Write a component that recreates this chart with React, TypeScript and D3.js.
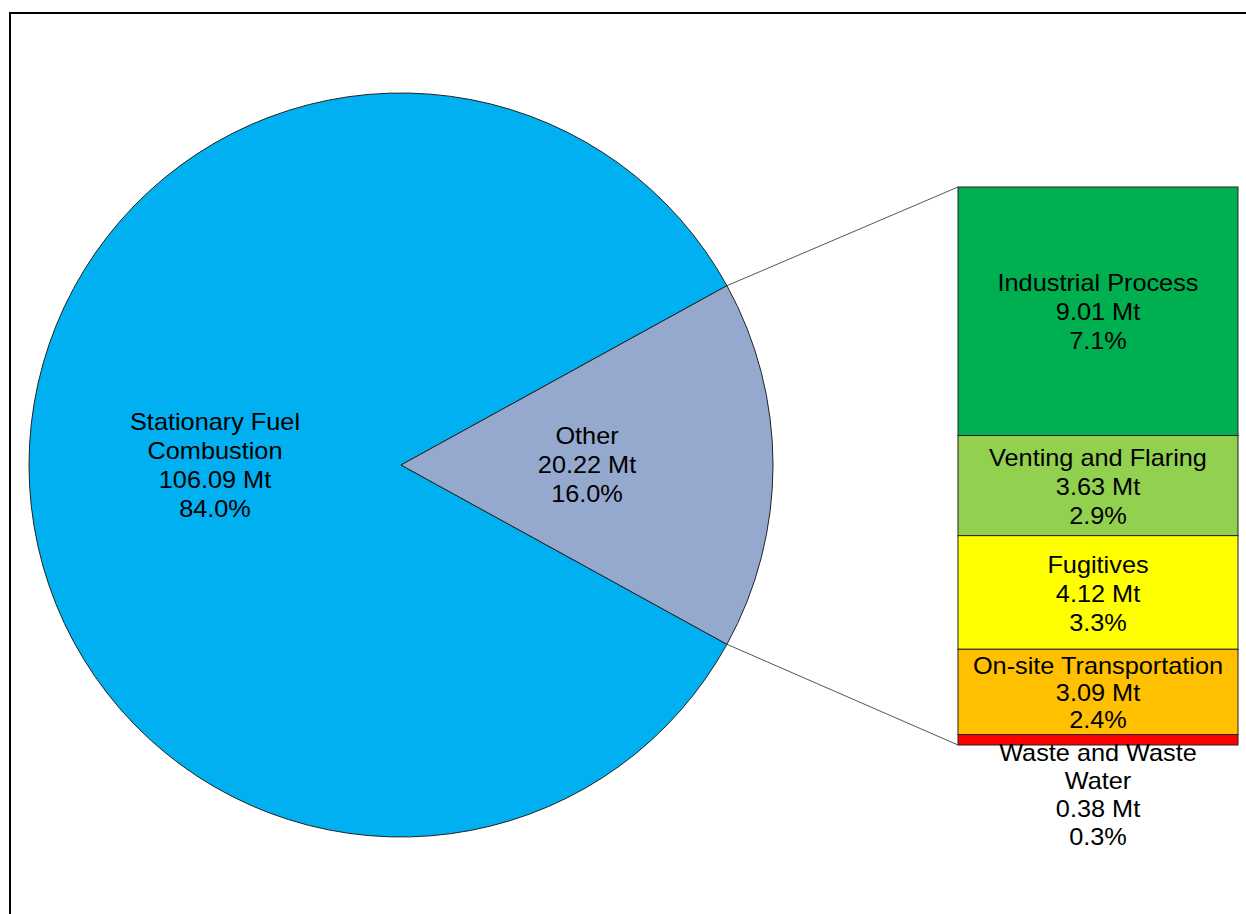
import React from "react";
import * as d3 from "d3";

const pieCategories = ["Stationary Fuel\nCombustion", "Other"];
const pieValues = [106.09, 20.22];
const pieColors = ["#00B0F0", "#95A9CF"];

const barCategories = ["Industrial Process", "Venting and Flaring", "Fugitives", "On-site Transportation", "Waste and Waste\nWater"];
const barValues = [9.01, 3.63, 4.12, 3.09, 0.38];
const barColors = ["#00B050", "#92D050", "#FFFF00", "#FFC000", "#FF0000"];

const W = 1246, H = 914;
const cx = 401, cy = 465, R = 372;
const barX = 958, barW = 280, barTop = 187, barBottom = 745;
const FONT = "'Liberation Sans', Arial, sans-serif";
const LH = 29;
const FS = 23;
const SX = 1.1;

export default function App() {
  const total = d3.sum(pieValues);
  const otherAngle = (pieValues[1] / total) * 2 * Math.PI;
  const start = Math.PI / 2 - otherAngle / 2;
  const pie = d3.pie<number>().sort(null).value(d => d)
    .startAngle(start + otherAngle - 2 * Math.PI)
    .endAngle(start + otherAngle);
  const arcs = pie(pieValues);
  const arc = d3.arc<d3.PieArcDatum<number>>().innerRadius(0).outerRadius(R);
  const labelArc = d3.arc<d3.PieArcDatum<number>>().innerRadius(R / 2).outerRadius(R / 2);

  const otherTotal = d3.sum(barValues);
  const y = d3.scaleLinear().domain([0, otherTotal]).range([barTop, barBottom]);
  const cum = barValues.map((_, i) => d3.sum(barValues.slice(0, i)));

  const pTop = [cx + R * Math.sin(start), cy - R * Math.cos(start)];
  const pBot = [cx + R * Math.sin(start + otherAngle), cy - R * Math.cos(start + otherAngle)];

  const fmtPct = (v: number) => (v / total * 100).toFixed(1) + "%";

  const renderLines = (lines: string[], x: number, yc: number, key: string, lh = LH) => {
    const y0 = yc - ((lines.length - 1) * lh) / 2;
    return (
      <g key={key} transform={`translate(${x},0) scale(${SX},1)`}>
        <text textAnchor="middle" fontFamily={FONT} fontSize={FS} fill="#000">
          {lines.map((l, i) => (
            <tspan key={i} x={0} y={y0 + i * lh} dominantBaseline="central">{l}</tspan>
          ))}
        </text>
      </g>
    );
  };

  return (
    <svg width={W} height={H} style={{ position: "absolute", left: 0, top: 0, background: "#fff" }}>
      <rect x={10} y={13} width={W + 20} height={H + 20} fill="#fff" stroke="#000" strokeWidth={2} />
      <g transform={`translate(${cx},${cy})`}>
        {arcs.map((a, i) => (
          <path key={i} d={arc(a) || ""} fill={pieColors[i]} stroke="#222" strokeWidth={1} />
        ))}
      </g>
      <line x1={pTop[0]} y1={pTop[1]} x2={barX} y2={barTop} stroke="#555" strokeWidth={1} />
      <line x1={pBot[0]} y1={pBot[1]} x2={barX} y2={barBottom} stroke="#555" strokeWidth={1} />
      {barValues.map((v, i) => (
        <rect key={i} x={barX} y={y(cum[i])} width={barW} height={y(cum[i] + v) - y(cum[i])}
          fill={barColors[i]} stroke="#222" strokeWidth={1} />
      ))}
      {arcs.map((a, i) => {
        const [lx, ly] = labelArc.centroid(a);
        const lines = [...pieCategories[i].split("\n"), pieValues[i].toFixed(2) + " Mt", fmtPct(pieValues[i])];
        return renderLines(lines, cx + lx, cy + ly, "p" + i);
      })}
      {barValues.map((v, i) => {
        const lines = [...barCategories[i].split("\n"), v.toFixed(2) + " Mt", fmtPct(v)];
        const x = barX + barW / 2;
        const y0 = y(cum[i]), y1 = y(cum[i] + v);
        const h = y1 - y0;
        if (h < 50) {
          const lh = 28;
          const yc = y1 + 8 + ((lines.length - 1) * lh) / 2;
          return renderLines(lines, x, yc, "b" + i, lh);
        }
        const lh = Math.min(LH, h / 3.15);
        return renderLines(lines, x, (y0 + y1) / 2 + 1, "b" + i, lh);
      })}
    </svg>
  );
}
